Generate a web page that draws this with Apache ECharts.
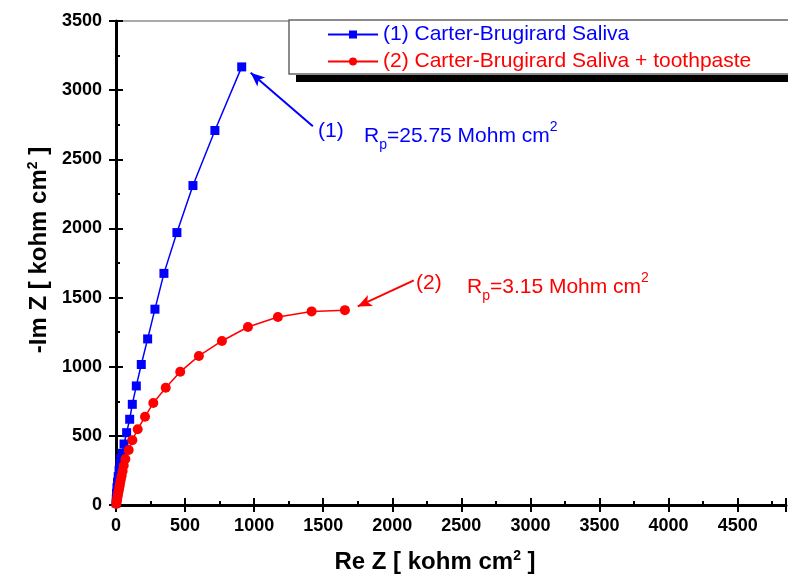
<!DOCTYPE html>
<html>
<head>
<meta charset="utf-8">
<script src="https://cdn.jsdelivr.net/npm/echarts@6/dist/echarts.min.js"></script>
<style>
  html, body { margin: 0; padding: 0; background: #fff; }
  #chart { width: 788px; height: 579px; }
</style>
</head>
<body>
<div id="chart"></div>
<script>
'use strict';

// Nyquist data, Re Z / -Im Z in kohm cm2
var saliva = [
    [1, 15], [2, 45], [4, 85], [7, 125], [11, 165], [16, 205], [22, 250],
    [29, 295], [36, 335], [43, 374], [58, 441], [77, 523], [99, 620],
    [118, 728], [147, 861], [183, 1016], [229, 1201], [282, 1416],
    [347, 1675], [441, 1970], [557, 2310], [716, 2708], [910, 3168]
];
var salivaPaste = [
    [2, 8], [4, 20], [7, 35], [10, 55], [14, 75], [18, 95], [22, 115],
    [26, 135], [30, 160], [35, 185], [41, 212], [48, 245], [56, 285],
    [68, 333], [92, 398], [118, 469], [157, 548], [210, 638], [270, 738],
    [360, 848], [465, 963], [600, 1078], [767, 1186], [955, 1287],
    [1172, 1359], [1416, 1400], [1657, 1409]
];
var seriesNames = ['(1) Carter-Brugirard Saliva', '(2) Carter-Brugirard Saliva + toothpaste'];
var arrow1 = [[1425, 2739], [975, 3125]];
var arrow2 = [[2156, 1625], [1750, 1436]];

var BLUE = '#0000ff';
var RED = '#ff0000';
var FONT = '"Liberation Sans", Arial, sans-serif';

var myChart = echarts.init(document.getElementById('chart'));

function axisBase(min, max) {
    return {
        type: 'value', min: min, max: max, interval: 500,
        splitLine: { show: false }
    };
}

var tickLabel = {
    fontFamily: FONT, fontWeight: 'bold', fontSize: 18, color: '#000',
    formatter: function(v) { return String(v); }
};
var nameStyle = function(pad) {
    return {
        fontFamily: FONT, fontWeight: 'bold', fontSize: 24, color: '#000',
        padding: pad,
        rich: { sup: { fontFamily: FONT, fontWeight: 'bold', fontSize: 14, verticalAlign: 'top', padding: [0, 0, 12, 0] } }
    };
};

var xMain = Object.assign(axisBase(0, 4850), {
    position: 'bottom',
    name: 'Re Z [ kohm cm{sup|2} ]',
    nameLocation: 'middle',
    nameGap: 44,
    nameTextStyle: nameStyle([0, 32, 0, 0]),
    axisLine: { lineStyle: { color: '#000', width: 3 } },
    axisTick: { inside: true, length: 7, lineStyle: { width: 2, color: '#000' } },
    minorTick: { show: true, splitNumber: 2, length: 4, lineStyle: { width: 2, color: '#000' } },
    axisLabel: Object.assign({ margin: 12, showMaxLabel: false }, tickLabel)
});
var xOut = Object.assign(axisBase(0, 4850), {
    position: 'bottom',
    axisLine: { show: false },
    axisTick: { inside: false, length: 7, lineStyle: { width: 2, color: '#000' } },
    axisLabel: { show: false }
});
var xTop = Object.assign(axisBase(0, 4850), {
    position: 'top',
    axisLine: { lineStyle: { color: '#aaaaaa', width: 2 } },
    axisTick: { show: false },
    axisLabel: { show: false }
});

var yMain = Object.assign(axisBase(0, 3500), {
    position: 'left',
    name: '-Im Z [ kohm cm{sup|2} ]',
    nameLocation: 'middle',
    nameGap: 62,
    nameTextStyle: nameStyle([0, 0, 0, 26]),
    axisLine: { lineStyle: { color: '#000', width: 3 } },
    axisTick: { inside: true, length: 7, lineStyle: { width: 2, color: '#000' } },
    minorTick: { show: true, splitNumber: 2, length: 4, lineStyle: { width: 2, color: '#000' } },
    axisLabel: Object.assign({ margin: 14 }, tickLabel)
});
var yOut = Object.assign(axisBase(0, 3500), {
    position: 'left',
    axisLine: { show: false },
    axisTick: { inside: false, length: 7, lineStyle: { width: 2, color: '#000' } },
    axisLabel: { show: false }
});

function arrowLine(pts, color) {
    return {
        silent: true,
        animation: false,
        symbol: ['none', 'arrow'],
        symbolSize: [9, 14],
        label: { show: false },
        lineStyle: { color: color, width: 2, type: 'solid' },
        data: [[{ coord: pts[0] }, { coord: pts[1] }]]
    };
}

var rpRich = function(color) {
    return {
        n: { fontFamily: FONT, fontSize: 21, fill: color, lineHeight: 32, verticalAlign: 'middle' },
        sub: { fontFamily: FONT, fontSize: 14, fill: color, lineHeight: 32, verticalAlign: 'bottom' },
        sup: { fontFamily: FONT, fontSize: 14, fill: color, lineHeight: 32, verticalAlign: 'top' }
    };
};

var option = {
    animation: false,
    backgroundColor: '#fff',
    grid: { left: 116, right: 2, top: 21, bottom: 72, containLabel: false },
    xAxis: [xMain, xOut, xTop],
    yAxis: [yMain, yOut],
    legend: {
        orient: 'vertical',
        left: 289,
        top: 20,
        padding: [4, 60, 2, 38],
        itemGap: 6,
        itemWidth: 50,
        itemHeight: 10,
        backgroundColor: '#fff',
        borderColor: '#666',
        borderWidth: 1.5,
        z: 5,
        textStyle: { fontFamily: FONT, fontSize: 21 },
        data: [
            { name: seriesNames[0], textStyle: { color: BLUE } },
            { name: seriesNames[1], textStyle: { color: RED } }
        ]
    },
    series: [
        {
            name: seriesNames[0],
            type: 'line',
            data: saliva,
            symbol: 'rect',
            symbolSize: 9,
            itemStyle: { color: BLUE },
            lineStyle: { color: BLUE, width: 1.5 },
            markLine: arrowLine(arrow1, BLUE)
        },
        {
            name: seriesNames[1],
            type: 'line',
            data: salivaPaste,
            symbol: 'circle',
            symbolSize: 10,
            itemStyle: { color: RED },
            lineStyle: { color: RED, width: 1.5 },
            markLine: arrowLine(arrow2, RED)
        }
    ],
    graphic: [
        // legend drop shadow
        { type: 'rect', z: 1, shape: { x: 296, y: 75, width: 500, height: 7 }, style: { fill: '#000' } },
        { type: 'text', x: 318, y: 131, style: { text: '(1)', font: '21px ' + FONT, fill: BLUE, verticalAlign: 'middle' } },
        { type: 'text', x: 364, y: 136, style: { text: '{n|R}{sub|p}{n|=25.75 Mohm cm}{sup|2}', rich: rpRich(BLUE), verticalAlign: 'middle' } },
        { type: 'text', x: 416, y: 283, style: { text: '(2)', font: '21px ' + FONT, fill: RED, verticalAlign: 'middle' } },
        { type: 'text', x: 467, y: 287, style: { text: '{n|R}{sub|p}{n|=3.15 Mohm cm}{sup|2}', rich: rpRich(RED), verticalAlign: 'middle' } }
    ]
};

myChart.setOption(option);
</script>
</body>
</html>
